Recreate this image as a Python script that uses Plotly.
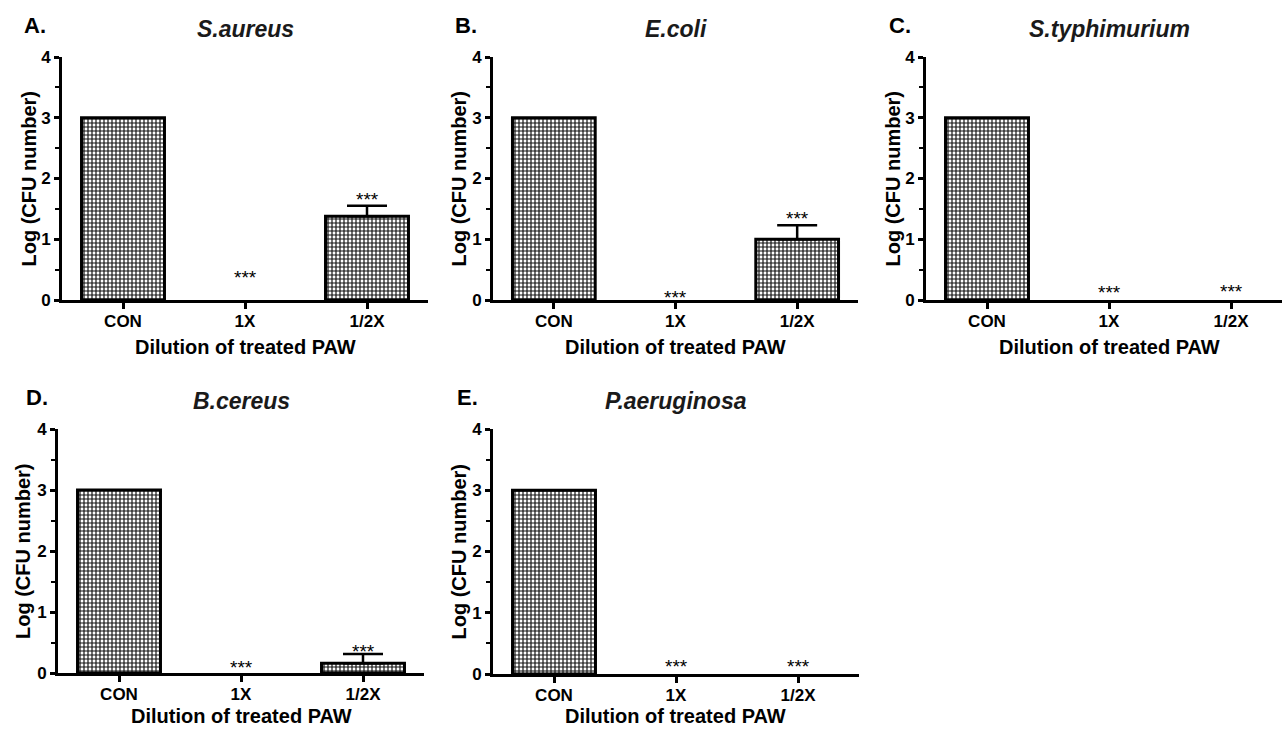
import plotly.graph_objects as go

W, H = 1282, 729

categories = ["CON", "1X", "1/2X"]
panel_letters = ["A.", "B.", "C.", "D.", "E."]
species = ["S.aureus", "E.coli", "S.typhimurium", "B.cereus", "P.aeruginosa"]

values_a = [3.0, 0.0, 1.38]
values_b = [3.0, 0.0, 1.0]
values_c = [3.0, 0.0, 0.0]
values_d = [3.0, 0.0, 0.16]
values_e = [3.0, 0.0, 0.0]

errors_a = [None, None, 0.17]
errors_b = [None, None, 0.23]
errors_c = [None, None, None]
errors_d = [None, None, 0.15]
errors_e = [None, None, None]

# height (in data units) where the significance stars sit, per category
stars_a = [None, 0.46, 1.74]
stars_b = [None, 0.13, 1.43]
stars_c = [None, 0.21, 0.23]
stars_d = [None, 0.18, 0.43]
stars_e = [None, 0.20, 0.21]
star_text = "***"

y_ticks = [0, 1, 2, 3, 4]
x_title = "Dilution of treated PAW"
y_title = "Log (CFU number)"

all_values = [values_a, values_b, values_c, values_d, values_e]
all_errors = [errors_a, errors_b, errors_c, errors_d, errors_e]
all_stars = [stars_a, stars_b, stars_c, stars_d, stars_e]

# layout in pixels: (x0, x1, ytop, ybottom, xrange_max)
boxes = [
    (62, 428, 57, 300, 2.5),
    (493, 858, 57, 300, 2.5),
    (926, 1282, 57, 300, 2.5 - 10 / 122),
    (58, 424, 429, 673, 2.5),
    (493, 859, 429, 674, 2.5),
]
letter_pos = [(22, 25), (453, 25), (887, 25), (24, 397), (455, 397)]
ytitle_x = [28, 458, 892, 23, 458]

FONT = "Liberation Sans, Arial, sans-serif"


def fx(px):
    return px / W


def fy(py):
    return 1 - py / H


fig = go.Figure()
annotations = []
layout = {}

for i in range(5):
    x0, x1, yt, yb, xmax = boxes[i]
    n = "" if i == 0 else str(i + 1)
    xa, ya = "x" + n, "y" + n
    vals = all_values[i]
    errs = all_errors[i]
    fig.add_trace(go.Bar(
        x=categories, y=vals, xaxis=xa, yaxis=ya, width=0.68,
        marker=dict(color="white",
                    pattern=dict(shape="+", size=4, solidity=0.5,
                                 fgcolor="#111111", bgcolor="#ffffff"),
                    line=dict(color="black", width=[3 if v > 0 else 0 for v in vals])),
        showlegend=False, hoverinfo="skip",
    ))
    ex = [c for c, e in zip(categories, errs) if e is not None]
    ey = [v for v, e in zip(vals, errs) if e is not None]
    ee = [e for e in errs if e is not None]
    if ex:
        fig.add_trace(go.Scatter(
            x=ex, y=ey, xaxis=xa, yaxis=ya, mode="markers",
            marker=dict(size=1, color="rgba(0,0,0,0)"),
            error_y=dict(type="data", symmetric=False, array=ee, arrayminus=[0] * len(ee),
                         color="black", thickness=2.5, width=20),
            showlegend=False, hoverinfo="skip",
        ))
    layout["xaxis" + n] = dict(
        domain=[fx(x0), fx(x1)], anchor=ya, type="category", automargin=False,
        categoryorder="array", categoryarray=categories,
        range=[-0.5, xmax], showline=True, linecolor="black", linewidth=3,
        ticks="outside", ticklen=6, tickwidth=3, tickcolor="black",
        showgrid=False, zeroline=False, ticklabelstandoff=-2,
        tickfont=dict(family=FONT, size=17, color="black", weight="bold"),
    )
    layout["yaxis" + n] = dict(
        domain=[fy(yb), fy(yt)], anchor=xa, range=[0, 4], automargin=False,
        tickvals=y_ticks, showline=True, linecolor="black", linewidth=3,
        ticks="outside", ticklen=5, tickwidth=3, tickcolor="black",
        minor=dict(dtick=0.5, ticks="outside", ticklen=4, tickwidth=2, tickcolor="black"),
        showgrid=False, zeroline=False,
        tickfont=dict(family=FONT, size=17, color="black", weight="bold"),
    )
    lx, ly = letter_pos[i]
    annotations.append(dict(text=panel_letters[i], x=fx(lx), y=fy(ly), xref="paper", yref="paper",
                            xanchor="left", yanchor="middle", showarrow=False,
                            font=dict(family=FONT, size=22, color="black", weight="bold")))
    cx = (x0 + x0 + (x1 - x0) * 3 / (xmax + 0.5)) / 2
    annotations.append(dict(text="<b><i>" + species[i] + "</i></b>", x=fx(cx), y=fy(yt - 28),
                            xref="paper", yref="paper", xanchor="center", yanchor="middle",
                            showarrow=False, font=dict(family=FONT, size=23, color="#1a1a1a")))
    xt_y = min(yb + 47, H - 13)
    annotations.append(dict(text="<b>" + x_title + "</b>", x=fx(cx),
                            y=fy(xt_y), xref="paper", yref="paper", xanchor="center",
                            yanchor="middle", showarrow=False,
                            font=dict(family=FONT, size=20, color="black")))
    annotations.append(dict(text="<b>" + y_title + "</b>", x=fx(ytitle_x[i]), y=fy((yt + yb) / 2),
                            xref="paper", yref="paper", xanchor="center", yanchor="middle",
                            textangle=-90, showarrow=False,
                            font=dict(family=FONT, size=20, color="black")))
    for c, s in zip(categories, all_stars[i]):
        if s is None:
            continue
        annotations.append(dict(text=star_text, x=c, y=s, xref=xa, yref=ya,
                                xanchor="center", yanchor="middle", yshift=-5,
                                showarrow=False, font=dict(family=FONT, size=19, color="black")))

fig.update_layout(
    template="none",
    width=W, height=H, margin=dict(l=0, r=0, t=0, b=0, pad=0, autoexpand=False),
    paper_bgcolor="white", plot_bgcolor="white",
    annotations=annotations, showlegend=False, **layout,
)

fig.write_html("out.html", config={"displayModeBar": False},
               post_script="document.body.style.margin='0';document.body.style.overflow='hidden';")
